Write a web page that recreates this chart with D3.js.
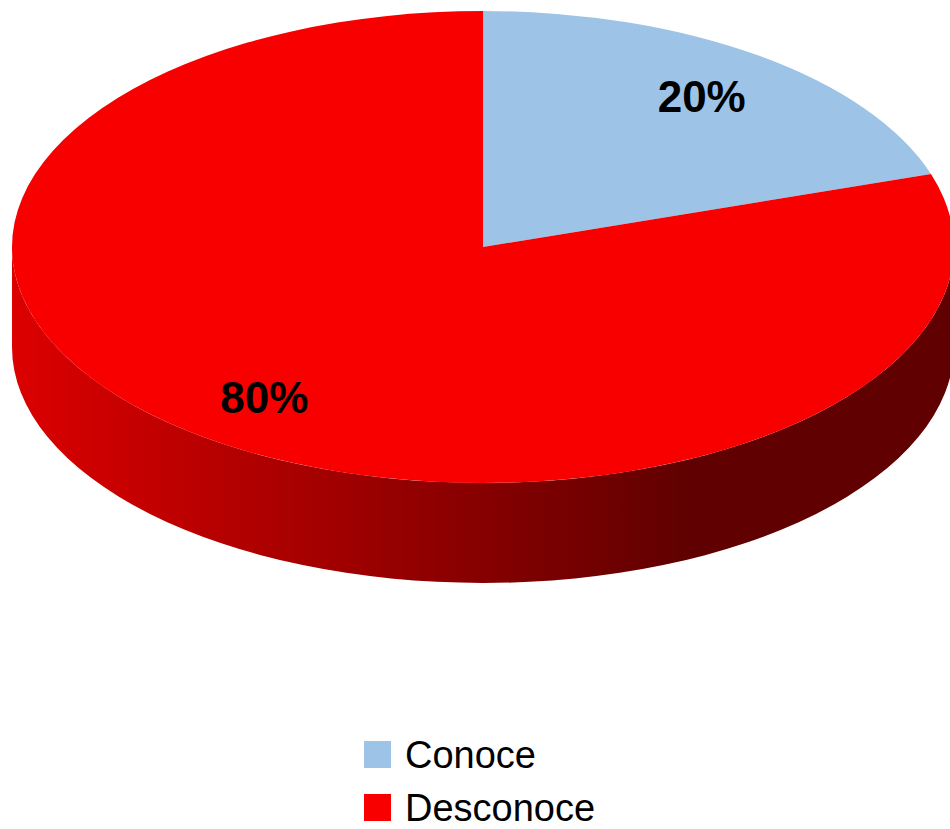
<!DOCTYPE html>
<html>
<head>
<meta charset="utf-8">
<script src="https://cdn.jsdelivr.net/npm/d3@7"></script>
<style>
  html, body { margin: 0; padding: 0; background: #fff; }
  svg { display: block; }
  text { font-family: "Liberation Sans", Arial, sans-serif; }
</style>
</head>
<body>
<svg id="chart" width="950" height="829"></svg>
<script>
// ---- data ----
const categories = ["Conoce", "Desconoce"];
const values = [20, 80];
const labels = ["20%", "80%"];
const colors = ["#9DC3E6", "#F80000"];

// ---- layout ----
const W = 950, H = 829;
const cx = 483, cy = 247, rx = 471, ry = 236, depth = 100;

const svg = d3.select("#chart");

const pie = d3.pie().sort(null).value(d => d.value).startAngle(0).endAngle(2 * Math.PI);
const arcs = pie(categories.map((c, i) => ({ name: c, value: values[i], color: colors[i], label: labels[i] })));

function P(a, dy = 0, f = 1) {
  return [cx + rx * f * Math.sin(a), cy - ry * f * Math.cos(a) + dy];
}

// gradient for side walls
const defs = svg.append("defs");
const grad = defs.append("linearGradient")
  .attr("id", "sideGrad")
  .attr("gradientUnits", "userSpaceOnUse")
  .attr("x1", cx - rx).attr("y1", 0)
  .attr("x2", 690).attr("y2", 0);
grad.append("stop").attr("offset", "0%").attr("stop-color", "#DC0000");
grad.append("stop").attr("offset", "100%").attr("stop-color", "#600000");

// side walls: visible part of each slice lies within [PI/2, 3PI/2]
const walls = svg.append("g");
arcs.forEach(d => {
  const a0 = Math.max(d.startAngle, Math.PI / 2);
  const a1 = Math.min(d.endAngle, 3 * Math.PI / 2);
  if (a1 <= a0) return;
  const t0 = P(a0), t1 = P(a1), b1 = P(a1, depth), b0 = P(a0, depth);
  const large = (a1 - a0) > Math.PI ? 1 : 0;
  const path = `M${t0[0]},${t0[1]} A${rx},${ry} 0 ${large} 1 ${t1[0]},${t1[1]} ` +
               `L${b1[0]},${b1[1]} A${rx},${ry} 0 ${large} 0 ${b0[0]},${b0[1]} Z`;
  walls.append("path").attr("d", path).attr("fill", "url(#sideGrad)");
});

// top faces
const tops = svg.append("g");
arcs.forEach(d => {
  const s = P(d.startAngle), e = P(d.endAngle);
  const large = (d.endAngle - d.startAngle) > Math.PI ? 1 : 0;
  const path = `M${cx},${cy} L${s[0]},${s[1]} A${rx},${ry} 0 ${large} 1 ${e[0]},${e[1]} Z`;
  tops.append("path").attr("d", path).attr("fill", d.data.color);
});

// labels
arcs.forEach(d => {
  const mid = (d.startAngle + d.endAngle) / 2;
  const p = P(mid, 0, 0.79);
  svg.append("text")
    .attr("x", p[0]).attr("y", p[1])
    .attr("text-anchor", "middle")
    .attr("dominant-baseline", "central")
    .attr("font-size", 44)
    .attr("font-weight", "bold")
    .attr("fill", "#000")
    .text(d.data.label);
});

// legend
const legend = svg.append("g");
categories.forEach((c, i) => {
  const y = 741 + i * 53;
  legend.append("rect").attr("x", 364).attr("y", y).attr("width", 27).attr("height", 27).attr("fill", colors[i]);
  legend.append("text").attr("x", 405).attr("y", y + 27)
    .attr("font-size", 38).attr("fill", "#000").text(c);
});
</script>
</body>
</html>
